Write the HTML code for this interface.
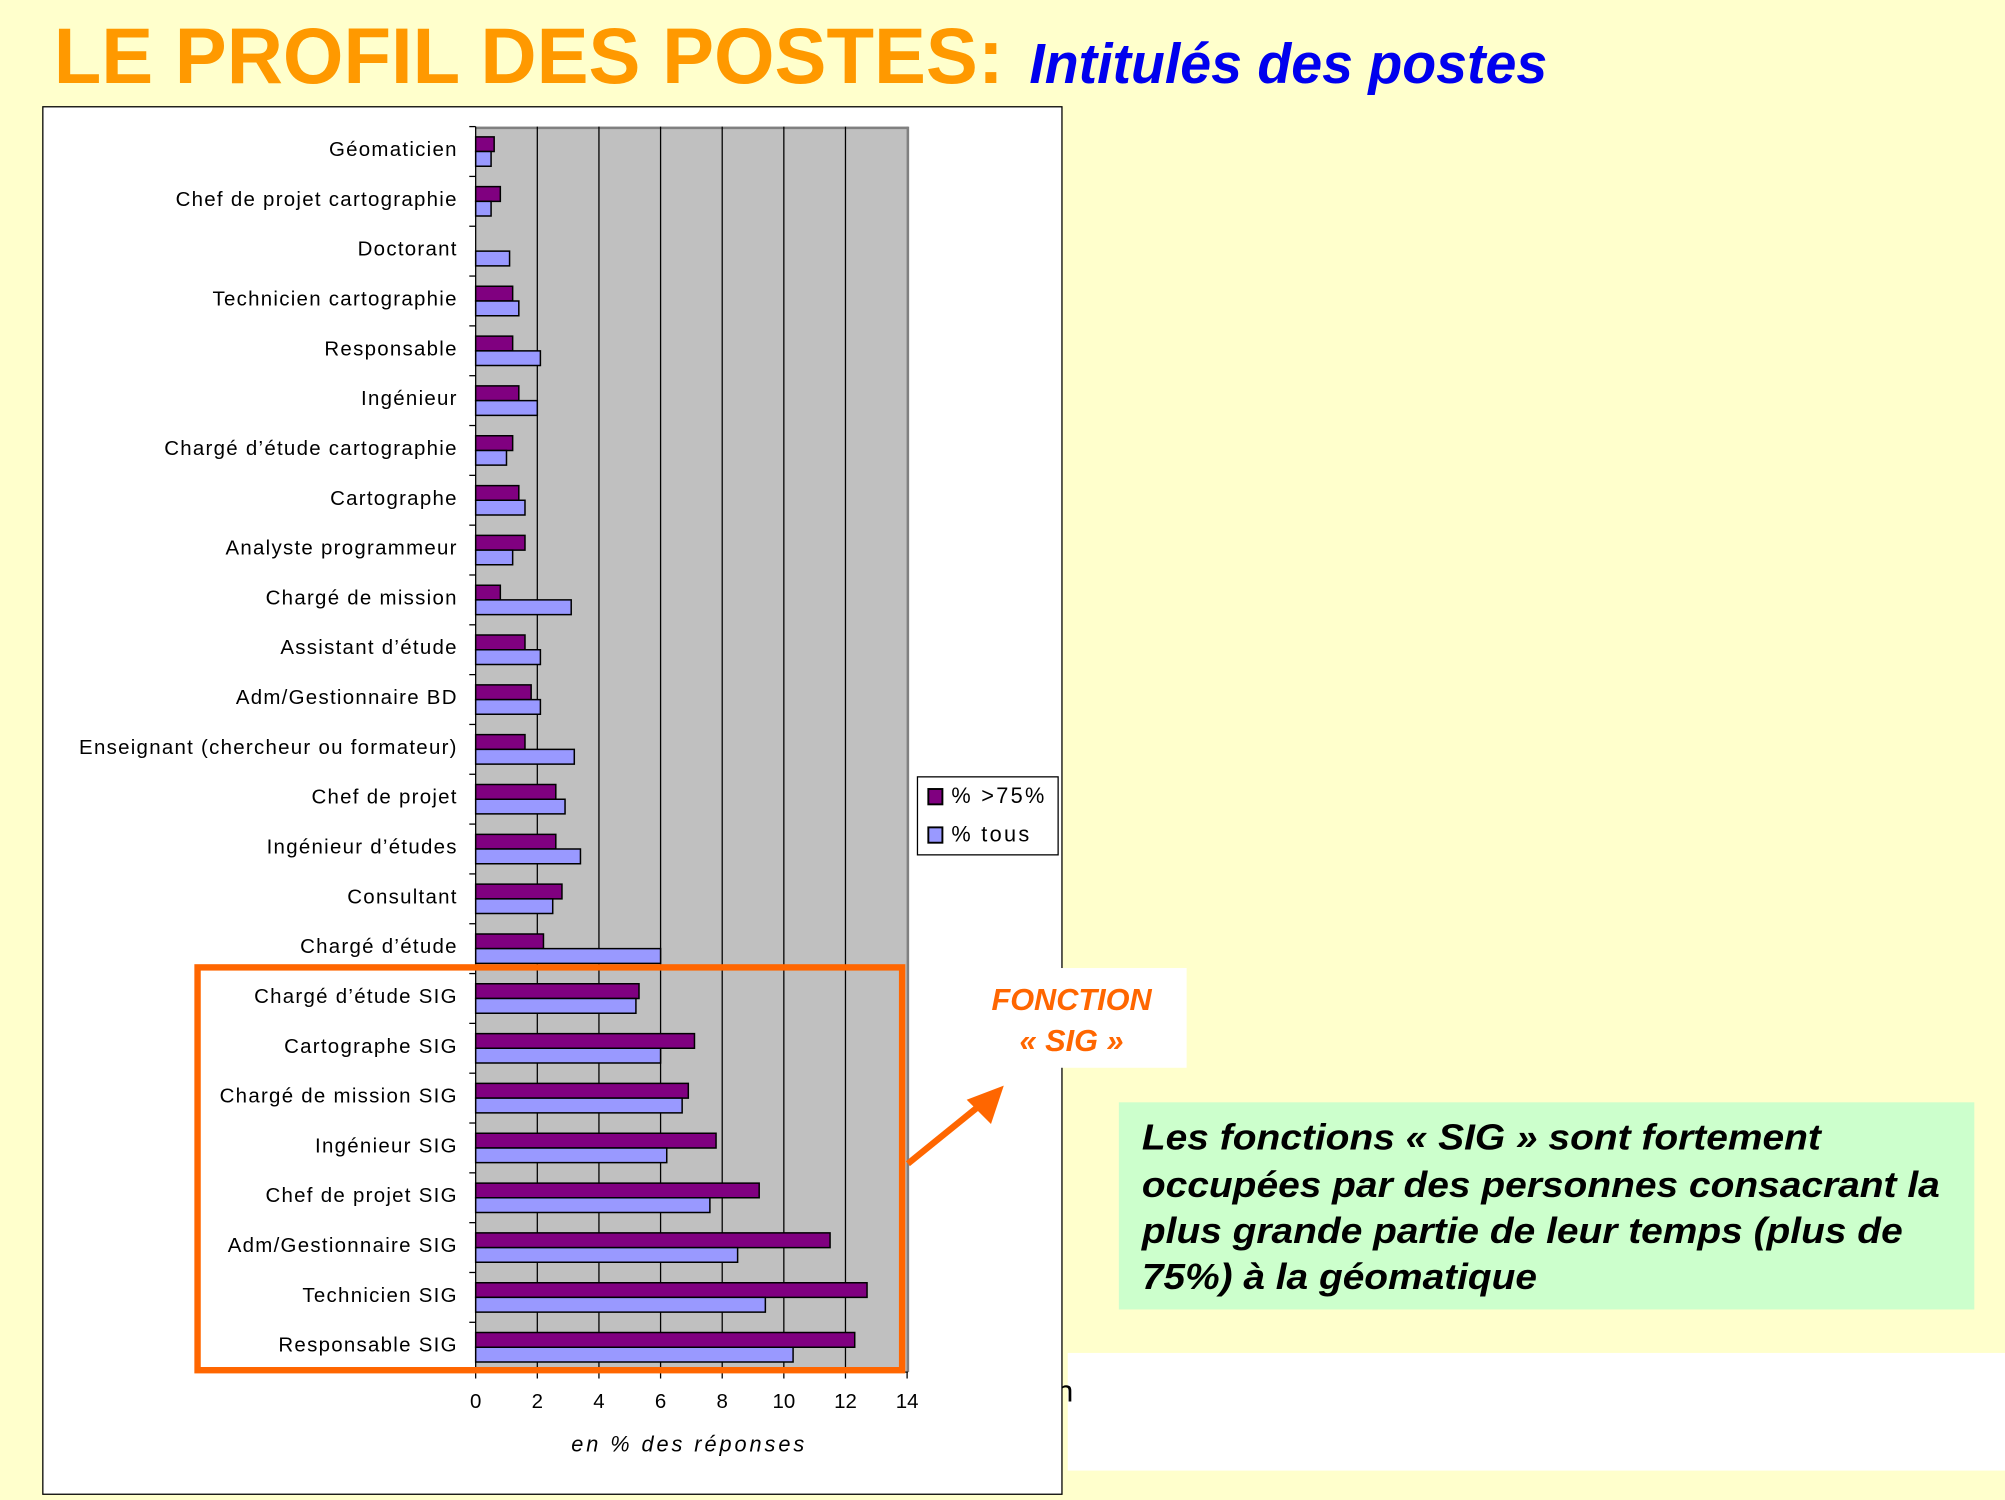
<!DOCTYPE html>
<html><head><meta charset="utf-8"><style>
html,body{margin:0;padding:0;background:#ffffcc;}
svg{display:block;}
.l{font-family:"Liberation Sans",sans-serif;font-size:16px;letter-spacing:1px;text-anchor:end;fill:#000;}
.p{fill:#800080;stroke:#000;stroke-width:1.5;}
.b{fill:#9999ff;stroke:#000;stroke-width:1.5;}
.t{font-family:"Liberation Sans",sans-serif;font-size:16px;text-anchor:middle;}
</style></head><body>
<svg width="2005" height="1500" viewBox="0 0 1568 1173" preserveAspectRatio="none" xmlns="http://www.w3.org/2000/svg">
<rect width="1568" height="1173" fill="#ffffcc"/>
<text x="42" y="65" font-family="Liberation Sans,sans-serif" font-weight="bold" font-size="62" fill="#ff9900" textLength="743" lengthAdjust="spacingAndGlyphs">LE PROFIL DES POSTES:</text>
<text x="805" y="65" font-family="Liberation Sans,sans-serif" font-weight="bold" font-style="italic" font-size="44" fill="#0000ee" textLength="405" lengthAdjust="spacingAndGlyphs">Intitulés des postes</text>
<rect x="835" y="1058" width="733" height="92" fill="#fff"/>
<text x="826" y="1096" font-family="Liberation Sans,sans-serif" font-size="24">n</text>
<rect x="33.5" y="83.5" width="797" height="1085" fill="#fff" stroke="#000" stroke-width="1"/>
<rect x="372" y="99" width="338" height="974" fill="#c0c0c0"/>
<line x1="372" y1="100" x2="710" y2="100" stroke="#808080" stroke-width="2"/>
<line x1="710" y1="99" x2="710" y2="1073" stroke="#808080" stroke-width="2"/>
<g stroke="#000" stroke-width="1">
<line x1="420.2" y1="99" x2="420.2" y2="1073"/><line x1="468.4" y1="99" x2="468.4" y2="1073"/><line x1="516.6" y1="99" x2="516.6" y2="1073"/><line x1="564.8" y1="99" x2="564.8" y2="1073"/><line x1="613" y1="99" x2="613" y2="1073"/><line x1="661.2" y1="99" x2="661.2" y2="1073"/>
<line x1="372" y1="99" x2="372" y2="1073"/>
<line x1="372" y1="1073" x2="710" y2="1073"/>
</g>
<g>
<g transform="translate(0,99)"><text class="l" x="358" y="23">Géomaticien</text><g transform="translate(372,0) scale(24.1,1)"><rect class="p" y="8" width="0.6" height="11.5" vector-effect="non-scaling-stroke"/><rect class="b" y="19.5" width="0.5" height="11.5" vector-effect="non-scaling-stroke"/></g></g>
<g transform="translate(0,137.96)"><text class="l" x="358" y="23">Chef de projet cartographie</text><g transform="translate(372,0) scale(24.1,1)"><rect class="p" y="8" width="0.8" height="11.5" vector-effect="non-scaling-stroke"/><rect class="b" y="19.5" width="0.5" height="11.5" vector-effect="non-scaling-stroke"/></g></g>
<g transform="translate(0,176.92)"><text class="l" x="358" y="23">Doctorant</text><g transform="translate(372,0) scale(24.1,1)"><rect class="b" y="19.5" width="1.1" height="11.5" vector-effect="non-scaling-stroke"/></g></g>
<g transform="translate(0,215.88)"><text class="l" x="358" y="23">Technicien cartographie</text><g transform="translate(372,0) scale(24.1,1)"><rect class="p" y="8" width="1.2" height="11.5" vector-effect="non-scaling-stroke"/><rect class="b" y="19.5" width="1.4" height="11.5" vector-effect="non-scaling-stroke"/></g></g>
<g transform="translate(0,254.84)"><text class="l" x="358" y="23">Responsable</text><g transform="translate(372,0) scale(24.1,1)"><rect class="p" y="8" width="1.2" height="11.5" vector-effect="non-scaling-stroke"/><rect class="b" y="19.5" width="2.1" height="11.5" vector-effect="non-scaling-stroke"/></g></g>
<g transform="translate(0,293.8)"><text class="l" x="358" y="23">Ingénieur</text><g transform="translate(372,0) scale(24.1,1)"><rect class="p" y="8" width="1.4" height="11.5" vector-effect="non-scaling-stroke"/><rect class="b" y="19.5" width="2.0" height="11.5" vector-effect="non-scaling-stroke"/></g></g>
<g transform="translate(0,332.76)"><text class="l" x="358" y="23">Chargé d’étude cartographie</text><g transform="translate(372,0) scale(24.1,1)"><rect class="p" y="8" width="1.2" height="11.5" vector-effect="non-scaling-stroke"/><rect class="b" y="19.5" width="1.0" height="11.5" vector-effect="non-scaling-stroke"/></g></g>
<g transform="translate(0,371.72)"><text class="l" x="358" y="23">Cartographe</text><g transform="translate(372,0) scale(24.1,1)"><rect class="p" y="8" width="1.4" height="11.5" vector-effect="non-scaling-stroke"/><rect class="b" y="19.5" width="1.6" height="11.5" vector-effect="non-scaling-stroke"/></g></g>
<g transform="translate(0,410.68)"><text class="l" x="358" y="23">Analyste programmeur</text><g transform="translate(372,0) scale(24.1,1)"><rect class="p" y="8" width="1.6" height="11.5" vector-effect="non-scaling-stroke"/><rect class="b" y="19.5" width="1.2" height="11.5" vector-effect="non-scaling-stroke"/></g></g>
<g transform="translate(0,449.64)"><text class="l" x="358" y="23">Chargé de mission</text><g transform="translate(372,0) scale(24.1,1)"><rect class="p" y="8" width="0.8" height="11.5" vector-effect="non-scaling-stroke"/><rect class="b" y="19.5" width="3.1" height="11.5" vector-effect="non-scaling-stroke"/></g></g>
<g transform="translate(0,488.6)"><text class="l" x="358" y="23">Assistant d’étude</text><g transform="translate(372,0) scale(24.1,1)"><rect class="p" y="8" width="1.6" height="11.5" vector-effect="non-scaling-stroke"/><rect class="b" y="19.5" width="2.1" height="11.5" vector-effect="non-scaling-stroke"/></g></g>
<g transform="translate(0,527.56)"><text class="l" x="358" y="23">Adm/Gestionnaire BD</text><g transform="translate(372,0) scale(24.1,1)"><rect class="p" y="8" width="1.8" height="11.5" vector-effect="non-scaling-stroke"/><rect class="b" y="19.5" width="2.1" height="11.5" vector-effect="non-scaling-stroke"/></g></g>
<g transform="translate(0,566.52)"><text class="l" x="358" y="23">Enseignant (chercheur ou formateur)</text><g transform="translate(372,0) scale(24.1,1)"><rect class="p" y="8" width="1.6" height="11.5" vector-effect="non-scaling-stroke"/><rect class="b" y="19.5" width="3.2" height="11.5" vector-effect="non-scaling-stroke"/></g></g>
<g transform="translate(0,605.48)"><text class="l" x="358" y="23">Chef de projet</text><g transform="translate(372,0) scale(24.1,1)"><rect class="p" y="8" width="2.6" height="11.5" vector-effect="non-scaling-stroke"/><rect class="b" y="19.5" width="2.9" height="11.5" vector-effect="non-scaling-stroke"/></g></g>
<g transform="translate(0,644.44)"><text class="l" x="358" y="23">Ingénieur d’études</text><g transform="translate(372,0) scale(24.1,1)"><rect class="p" y="8" width="2.6" height="11.5" vector-effect="non-scaling-stroke"/><rect class="b" y="19.5" width="3.4" height="11.5" vector-effect="non-scaling-stroke"/></g></g>
<g transform="translate(0,683.4)"><text class="l" x="358" y="23">Consultant</text><g transform="translate(372,0) scale(24.1,1)"><rect class="p" y="8" width="2.8" height="11.5" vector-effect="non-scaling-stroke"/><rect class="b" y="19.5" width="2.5" height="11.5" vector-effect="non-scaling-stroke"/></g></g>
<g transform="translate(0,722.36)"><text class="l" x="358" y="23">Chargé d’étude</text><g transform="translate(372,0) scale(24.1,1)"><rect class="p" y="8" width="2.2" height="11.5" vector-effect="non-scaling-stroke"/><rect class="b" y="19.5" width="6.0" height="11.5" vector-effect="non-scaling-stroke"/></g></g>
<g transform="translate(0,761.32)"><text class="l" x="358" y="23">Chargé d’étude SIG</text><g transform="translate(372,0) scale(24.1,1)"><rect class="p" y="8" width="5.3" height="11.5" vector-effect="non-scaling-stroke"/><rect class="b" y="19.5" width="5.2" height="11.5" vector-effect="non-scaling-stroke"/></g></g>
<g transform="translate(0,800.28)"><text class="l" x="358" y="23">Cartographe SIG</text><g transform="translate(372,0) scale(24.1,1)"><rect class="p" y="8" width="7.1" height="11.5" vector-effect="non-scaling-stroke"/><rect class="b" y="19.5" width="6.0" height="11.5" vector-effect="non-scaling-stroke"/></g></g>
<g transform="translate(0,839.24)"><text class="l" x="358" y="23">Chargé de mission SIG</text><g transform="translate(372,0) scale(24.1,1)"><rect class="p" y="8" width="6.9" height="11.5" vector-effect="non-scaling-stroke"/><rect class="b" y="19.5" width="6.7" height="11.5" vector-effect="non-scaling-stroke"/></g></g>
<g transform="translate(0,878.2)"><text class="l" x="358" y="23">Ingénieur SIG</text><g transform="translate(372,0) scale(24.1,1)"><rect class="p" y="8" width="7.8" height="11.5" vector-effect="non-scaling-stroke"/><rect class="b" y="19.5" width="6.2" height="11.5" vector-effect="non-scaling-stroke"/></g></g>
<g transform="translate(0,917.16)"><text class="l" x="358" y="23">Chef de projet SIG</text><g transform="translate(372,0) scale(24.1,1)"><rect class="p" y="8" width="9.2" height="11.5" vector-effect="non-scaling-stroke"/><rect class="b" y="19.5" width="7.6" height="11.5" vector-effect="non-scaling-stroke"/></g></g>
<g transform="translate(0,956.12)"><text class="l" x="358" y="23">Adm/Gestionnaire SIG</text><g transform="translate(372,0) scale(24.1,1)"><rect class="p" y="8" width="11.5" height="11.5" vector-effect="non-scaling-stroke"/><rect class="b" y="19.5" width="8.5" height="11.5" vector-effect="non-scaling-stroke"/></g></g>
<g transform="translate(0,995.08)"><text class="l" x="358" y="23">Technicien SIG</text><g transform="translate(372,0) scale(24.1,1)"><rect class="p" y="8" width="12.7" height="11.5" vector-effect="non-scaling-stroke"/><rect class="b" y="19.5" width="9.4" height="11.5" vector-effect="non-scaling-stroke"/></g></g>
<g transform="translate(0,1034.04)"><text class="l" x="358" y="23">Responsable SIG</text><g transform="translate(372,0) scale(24.1,1)"><rect class="p" y="8" width="12.3" height="11.5" vector-effect="non-scaling-stroke"/><rect class="b" y="19.5" width="10.3" height="11.5" vector-effect="non-scaling-stroke"/></g></g>
</g>
<g stroke="#000" stroke-width="1">
<line x1="367" y1="99" x2="372" y2="99"/><line x1="367" y1="137.96" x2="372" y2="137.96"/><line x1="367" y1="176.92" x2="372" y2="176.92"/><line x1="367" y1="215.88" x2="372" y2="215.88"/><line x1="367" y1="254.84" x2="372" y2="254.84"/><line x1="367" y1="293.8" x2="372" y2="293.8"/><line x1="367" y1="332.76" x2="372" y2="332.76"/><line x1="367" y1="371.72" x2="372" y2="371.72"/><line x1="367" y1="410.68" x2="372" y2="410.68"/><line x1="367" y1="449.64" x2="372" y2="449.64"/><line x1="367" y1="488.6" x2="372" y2="488.6"/><line x1="367" y1="527.56" x2="372" y2="527.56"/><line x1="367" y1="566.52" x2="372" y2="566.52"/><line x1="367" y1="605.48" x2="372" y2="605.48"/><line x1="367" y1="644.44" x2="372" y2="644.44"/><line x1="367" y1="683.4" x2="372" y2="683.4"/><line x1="367" y1="722.36" x2="372" y2="722.36"/><line x1="367" y1="761.32" x2="372" y2="761.32"/><line x1="367" y1="800.28" x2="372" y2="800.28"/><line x1="367" y1="839.24" x2="372" y2="839.24"/><line x1="367" y1="878.2" x2="372" y2="878.2"/><line x1="367" y1="917.16" x2="372" y2="917.16"/><line x1="367" y1="956.12" x2="372" y2="956.12"/><line x1="367" y1="995.08" x2="372" y2="995.08"/><line x1="367" y1="1034.04" x2="372" y2="1034.04"/>
<line x1="372" y1="1073" x2="372" y2="1078"/><line x1="420.2" y1="1073" x2="420.2" y2="1078"/><line x1="468.4" y1="1073" x2="468.4" y2="1078"/><line x1="516.6" y1="1073" x2="516.6" y2="1078"/><line x1="564.8" y1="1073" x2="564.8" y2="1078"/><line x1="613" y1="1073" x2="613" y2="1078"/><line x1="661.2" y1="1073" x2="661.2" y2="1078"/><line x1="709.4" y1="1073" x2="709.4" y2="1078"/>
</g>
<text class="t" x="372" y="1101">0</text><text class="t" x="420.2" y="1101">2</text><text class="t" x="468.4" y="1101">4</text><text class="t" x="516.6" y="1101">6</text><text class="t" x="564.8" y="1101">8</text><text class="t" x="613" y="1101">10</text><text class="t" x="661.2" y="1101">12</text><text class="t" x="709.4" y="1101">14</text>
<text x="539" y="1135" font-family="Liberation Sans,sans-serif" font-style="italic" font-size="17" letter-spacing="2.3" text-anchor="middle">en % des réponses</text>
<rect x="717.5" y="607.5" width="110" height="61" fill="#fff" stroke="#000" stroke-width="1"/>
<rect x="726" y="617" width="11" height="12" fill="#800080" stroke="#000" stroke-width="1.5"/>
<rect x="726" y="647" width="11" height="12" fill="#9999ff" stroke="#000" stroke-width="1.5"/>
<text x="744" y="628" font-family="Liberation Sans,sans-serif" font-size="17" letter-spacing="1.8">% &gt;75%</text>
<text x="744" y="658" font-family="Liberation Sans,sans-serif" font-size="17" letter-spacing="1.8">% tous</text>
<rect x="154.5" y="756.5" width="551" height="315" fill="none" stroke="#ff6600" stroke-width="5"/>
<line x1="710" y1="910" x2="768" y2="863" stroke="#ff6600" stroke-width="5"/>
<polygon points="785,849 756,860 775,879" fill="#ff6600"/>
<rect x="750" y="757" width="178" height="78" fill="#fff"/>
<text x="838" y="790" font-family="Liberation Sans,sans-serif" font-weight="bold" font-style="italic" font-size="24" fill="#ff6600" text-anchor="middle">FONCTION</text>
<text x="838" y="822" font-family="Liberation Sans,sans-serif" font-weight="bold" font-style="italic" font-size="24" fill="#ff6600" text-anchor="middle">« SIG »</text>
<rect x="875" y="862" width="669" height="162" fill="#ccffcc"/>
<g font-family="Liberation Sans,sans-serif" font-weight="bold" font-style="italic" font-size="28" fill="#000">
<text x="893" y="899" textLength="531" lengthAdjust="spacingAndGlyphs">Les fonctions « SIG » sont fortement</text>
<text x="893" y="936" textLength="624" lengthAdjust="spacingAndGlyphs">occupées par des personnes consacrant la</text>
<text x="893" y="972" textLength="595" lengthAdjust="spacingAndGlyphs">plus grande partie de leur temps (plus de</text>
<text x="893" y="1008" textLength="309" lengthAdjust="spacingAndGlyphs">75%) à la géomatique</text>
</g>
</svg>
</body></html>
